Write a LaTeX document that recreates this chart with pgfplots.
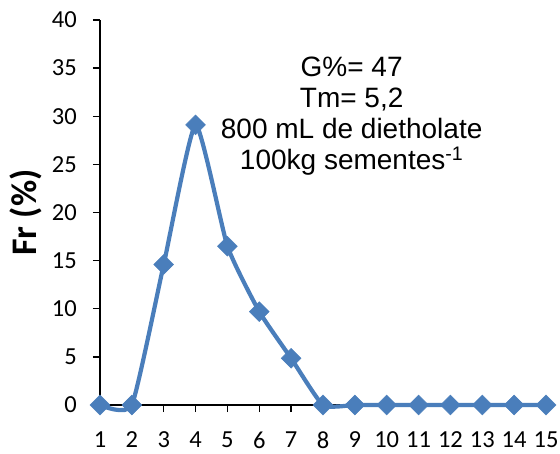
\documentclass[border=0pt]{standalone}
\usepackage{pgfplots}
\pgfplotsset{compat=1.18}
\usepackage{fontspec}
\setmainfont{Carlito}
\newfontfamily\arial{Liberation Sans}
\definecolor{lineblue}{RGB}{74,126,187}
\newcommand\tickfont{\fontsize{24.5bp}{29bp}\selectfont}
\begin{document}
\begin{tikzpicture}
\useasboundingbox (-100bp,-49bp) rectangle (460bp,405bp);
\begin{axis}[
  at={(0,0)}, anchor=south west,
  scale only axis, width=446bp, height=385bp,
  xmin=1, xmax=15, ymin=0, ymax=40,
  xtick={1,...,15}, ytick={0,5,...,40},
  axis x line*=bottom, axis y line*=left,
  axis line style={line width=1.3bp, -, black},
  tick style={line width=1.3bp, black},
  tick align=outside, major tick length=7bp,
  xticklabel={\tickfont\pgfmathprintnumber[assume math mode=true]{\tick}},
  yticklabel={\tickfont\pgfmathprintnumber[assume math mode=true]{\tick}},
  xticklabel style={inner sep=0pt, yshift=-19.5bp},
  yticklabel style={inner sep=0pt, xshift=-16bp},
  ylabel={\fontsize{36bp}{40bp}\selectfont\bfseries Fr (\%)},
  ylabel style={at={(axis description cs:-0.166,0.5)}, anchor=center},
  clip=false,
]
\addplot[smooth, tension=0.3, color=lineblue, line width=4.2bp, mark=square*, mark size=7bp,
  mark options={rotate=45, fill=lineblue, draw=lineblue, line width=0.5bp}] coordinates {
  (1,0) (2,0) (3,14.6) (4,29.1) (5,16.5) (6,9.7) (7,4.85) (8,0)
  (9,0) (10,0) (11,0) (12,0) (13,0) (14,0) (15,0)};
\node[font=\arial\fontsize{28bp}{31bp}\selectfont, align=center] at (axis cs:8.9,30)
  {G\%= 47\\Tm= 5,2\\800 mL de dietholate\\100kg sementes\textsuperscript{-1}};
\end{axis}
\end{tikzpicture}
\end{document}
